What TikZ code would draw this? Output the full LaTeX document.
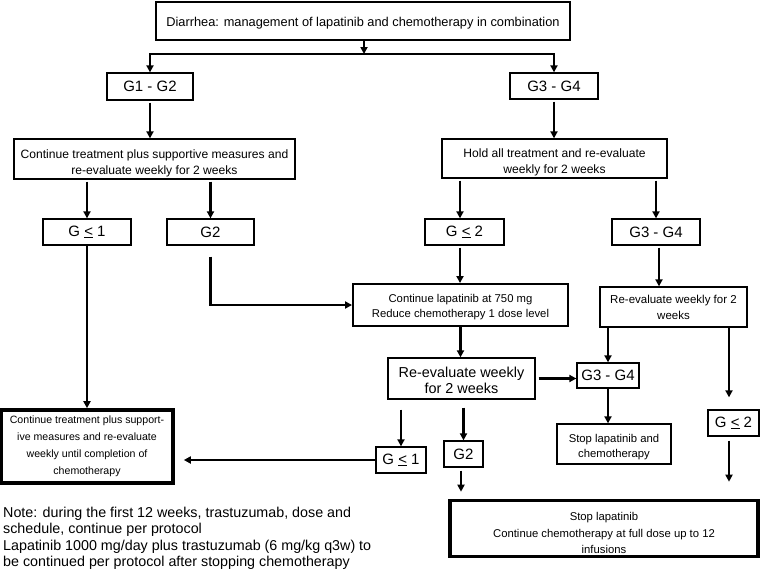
\documentclass[tikz,border=0pt]{standalone}
\usepackage{fontspec}
\setmainfont{Liberation Sans}
\usetikzlibrary{arrows.meta}

\begin{document}
\begin{tikzpicture}[x=1pt,y=-1pt,
  box/.style={draw,line width=1.3pt,inner sep=0pt,align=center,font=\fontsize{11.3}{16}\selectfont},
  thickbox/.style={box,line width=3.6pt},
  grade/.style={box,font=\fontsize{15}{17}\selectfont},
  arr/.style={line width=2.1pt,-{Triangle[length=7pt,width=7pt]}}]
\useasboundingbox (0,0) rectangle (761,570);
\node[box,minimum width=414,minimum height=38,text height=13pt,font=\fontsize{12.8}{15}\selectfont] (title) at (363,21) {Diarrhea: management of lapatinib and chemotherapy in combination};
\node[grade,minimum width=86,minimum height=27] (g12) at (150,86.5) {G1 - G2};
\node[grade,minimum width=88,minimum height=26] (g34) at (554,86) {G3 - G4};
\node[box,minimum width=281,minimum height=40,text height=32.7pt,font=\fontsize{12.1}{16}\selectfont] (cont) at (154.5,159) {Continue treatment plus supportive measures and\\re-evaluate weekly for 2 weeks};
\node[box,minimum width=225,minimum height=39,text height=32.7pt,font=\fontsize{12.1}{16}\selectfont] (hold) at (554.5,158.5) {Hold all treatment and re-evaluate\\weekly for 2 weeks};
\node[grade,minimum width=88,minimum height=26] (gle1) at (87,232) {G \underline{<} 1};
\node[grade,minimum width=87,minimum height=26] (g2) at (210.5,232) {G2};
\node[grade,minimum width=79,minimum height=26] (gle2) at (464.5,232) {G \underline{<} 2};
\node[grade,minimum width=88,minimum height=26] (g34b) at (656,232) {G3 - G4};
\node[box,line width=1.9pt,minimum width=215,minimum height=42,text height=27.1pt,font=\fontsize{11.3}{15}\selectfont] (lap) at (460.5,305) {Continue lapatinib at 750 mg\\Reduce chemotherapy 1 dose level};
\node[box,minimum width=147,minimum height=40,font=\fontsize{11.5}{16}\selectfont] (reev) at (673.5,307) {Re-evaluate weekly for 2\\weeks};
\node[box,minimum width=147,minimum height=41,text height=30.8pt,font=\fontsize{14.4}{16.5}\selectfont] (reevw) at (461.5,378.5) {Re-evaluate weekly\\for 2 weeks};
\node[grade,minimum width=62,minimum height=25] (g34c) at (608,375.5) {G3 - G4};
\node[box,minimum width=114,minimum height=40,text height=29.1pt,font=\fontsize{11.3}{15}\selectfont] (stop) at (614,444) {Stop lapatinib and\\chemotherapy};
\node[grade,minimum width=51,minimum height=26] (gle2b) at (733.5,423) {G \underline{<} 2};
\node[grade,minimum width=50,minimum height=26] (gle1b) at (401,460) {G \underline{<} 1};
\node[grade,minimum width=39,minimum height=26] (g2b) at (463.5,454) {G2};
\node[thickbox,minimum width=308,minimum height=56,text height=50.1pt,font=\fontsize{11.3}{16.5}\selectfont] (final) at (604,528.5) {Stop lapatinib\\Continue chemotherapy at full dose up to 12\\infusions};
\node[thickbox,minimum width=172,minimum height=73,font=\fontsize{10.6}{17}\selectfont] (contw) at (87,446.5) {Continue treatment plus support-\\ive measures and re-evaluate\\weekly until completion of\\chemotherapy};
\node[anchor=north west,align=left,inner sep=0pt,font=\fontsize{14.3}{16.4}\selectfont] (note) at (3,507) {Note: during the first 12 weeks, trastuzumab, dose and\\schedule, continue per protocol\\Lapatinib 1000 mg/day plus trastuzumab (6 mg/kg q3w) to\\be continued per protocol after stopping chemotherapy};
\coordinate (split) at (364,54);
\draw[arr] (title.south -| split) -- (split);
\draw[arr] (split) -| (g12.north);
\draw[arr] (split) -| (g34.north);
\draw[arr,shorten <=2pt] (g12.south) -- (g12.south |- cont.north);
\draw[arr,shorten <=2pt] (g34.south) -- (g34.south |- hold.north);
\draw[arr,shorten <=2pt] (gle1.north |- cont.south) -- (gle1.north);
\draw[arr,shorten <=2pt] (g2.north |- cont.south) -- (g2.north);
\draw[arr,shorten <=2pt] ([xshift=-4.5pt]gle2.north |- hold.south) -- ([xshift=-4.5pt]gle2.north);
\draw[arr,shorten <=2pt] (g34b.north |- hold.south) -- (g34b.north);
\draw[arr,shorten <=11pt] (g2.south) |- (lap.west);
\draw[arr,shorten <=2pt] ([xshift=-4.5pt]gle2.south) -- ([xshift=-4.5pt]gle2.south |- lap.north);
\draw[arr,shorten <=2pt] ([xshift=3pt]g34b.south) -- ([xshift=3pt]g34b.south |- reev.north);
\draw[arr] (lap.south) -- (lap.south |- reevw.north);
\draw[arr,shorten <=3pt] (reevw.east) -- (g34c.west |- reevw.east);
\draw[arr] (g34c.north |- reev.south) -- (g34c.north);
\draw[arr,shorten >=12pt] ([xshift=-4.5pt]gle2b.north |- reev.south) -- ([xshift=-4.5pt]gle2b.north);
\draw[arr] (g34c.south) -- (g34c.south |- stop.north);
\draw[arr,shorten <=4pt,shorten >=17pt] ([xshift=-4.5pt]gle2b.south) -- ([xshift=-4.5pt]gle2b.south |- final.north);
\draw[arr,shorten <=10pt] (gle1b.north |- reevw.south) -- (gle1b.north);
\draw[arr,shorten <=8pt] (g2b.north |- reevw.south) -- (g2b.north);
\draw[arr,shorten <=3pt,shorten >=7pt] ([xshift=-2.5pt]g2b.south) -- ([xshift=-2.5pt]g2b.south |- final.north);
\draw[arr,shorten >=9pt] (gle1b.west) -- (contw.east |- gle1b.west);
\draw[arr] (gle1.south) -- (gle1.south |- contw.north);
\end{tikzpicture}
\end{document}
